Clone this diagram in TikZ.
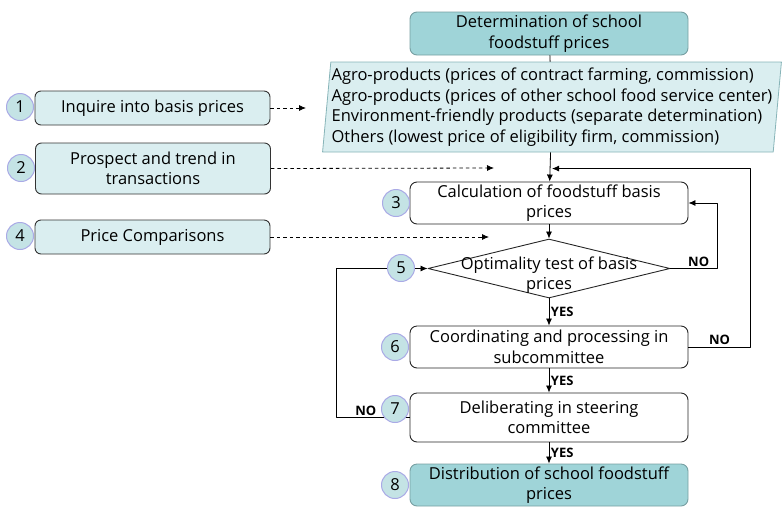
\documentclass[tikz,border=0pt]{standalone}
\usepackage{fontspec}
\setmainfont{Open Sans}
\usetikzlibrary{shapes.geometric,arrows.meta}
\definecolor{tealbox}{HTML}{9FD4D8}
\definecolor{palebox}{HTML}{DAEEF0}
\definecolor{numfill}{HTML}{C4E3E5}
\definecolor{numring}{HTML}{AAAAE6}
\begin{document}
\begin{tikzpicture}[x=1pt,y=-1pt,line join=round,
  every node/.style={font=\fontsize{16.5}{20.5}\selectfont},
  flowbox/.style={draw=black!85,rounded corners=7pt,line width=0.9pt,minimum width=278pt,align=center,inner sep=0pt},
  sidebox/.style={draw=black!80,fill=palebox,rounded corners=6pt,line width=0.9pt,minimum width=235pt,align=center,inner sep=0pt},
  numdot/.style={circle,draw=numring,fill=numfill,line width=1pt,minimum size=27pt,inner sep=0pt},
  answer/.style={font=\fontsize{13}{14}\selectfont\bfseries,inner sep=1.5pt},
  flow/.style={-{Latex[length=7pt,width=6pt]},line width=0.8pt},
  hint/.style={flow,dash pattern=on 3.5pt off 3pt}]
  \useasboundingbox (0,0) rectangle (782,507);
  % main column: source box, basis sources, calculation, test and committees
  \node[flowbox,fill=tealbox,draw=tealbox!75!black,minimum height=43pt] (top) at (549,33.5) {Determination of school\\foodstuff prices};
  \node[trapezium,trapezium left angle=84,trapezium right angle=96,trapezium stretches=true,
        draw=tealbox!85!black,fill=palebox,line width=0.8pt,minimum width=460pt,minimum height=90pt,
        align=left,inner sep=0pt] (src) at (552,107)
    {Agro-products (prices of contract farming, commission)\\
     Agro-products (prices of other school food service center)\\
     Environment-friendly products (separate determination)\\
     Others (lowest price of eligibility firm, commission)};
  \node[flowbox,minimum height=42pt] (calc) at (549,203) {Calculation of foodstuff basis\\prices};
  \node[diamond,draw=black!85,line width=0.9pt,minimum width=242pt,minimum height=59pt,inner sep=0pt] (test) at (549,268.5) {};
  \node[align=center] (testtxt) at (549,275) {Optimality test of basis\\prices};
  \node[flowbox,minimum height=42pt] (sub) at (549,347) {Coordinating and processing in\\subcommittee};
  \node[flowbox,minimum height=49pt] (steer) at (549,417.5) {Deliberating in steering\\committee};
  \node[flowbox,fill=tealbox,draw=tealbox!75!black,minimum height=42pt] (dist) at (549,485) {Distribution of school foodstuff\\prices};

  % inputs at left
  \node[sidebox,minimum height=34pt] (s1) at (152.5,108) {Inquire into basis prices};
  \node[sidebox,minimum height=51pt] (s2) at (153,168.5) {Prospect and trend in\\transactions};
  \node[sidebox,minimum height=34pt] (s4) at (152.5,237) {Price Comparisons};
  \coordinate (h1) at (306,108);
  \coordinate (h2) at (494,168);
  \coordinate (h4) at (489,237);
  \draw[hint] (s1.east) -- (h1);
  \draw[hint] (s2.east) -- (h2);
  \draw[hint] (s4.east) -- (h4);

  \draw[line width=0.8pt] (top) -- (src);
  \draw[flow] (src) -- (calc);
  \draw[flow] (calc) -- (test);
  \draw[flow] (test) -- node[answer,right] {YES} (sub);
  \draw[flow] (sub) -- node[answer,right] {YES} (steer);
  \draw[flow] (steer) -- node[answer,right] {YES} (dist);

  % loops back
  \draw[flow] (test.east) -| node[answer,above,pos=0.3] {NO} ([xshift=29pt]calc.east) -- (calc.east);
  \draw[flow] (sub.east) -- node[answer,above] {NO} ++(62,0) |- ([xshift=3pt,yshift=13pt]calc.north);
  \draw[flow] (steer.west) -- node[answer,above,pos=0.6] {NO} ++(-73,0) |- (test.west);

  % step numbers
  \node[numdot] (n1) at (20,107) {1};
  \node[numdot] (n2) at (21,168) {2};
  \node[numdot] (n4) at (20,236) {4};
  \node[numdot] (n3) at (396,203) {3};
  \node[numdot] (n5) at (401,268) {5};
  \node[numdot] (n6) at (395,347) {6};
  \node[numdot] (n7) at (395,409) {7};
  \node[numdot] (n8) at (395,485) {8};
\end{tikzpicture}
\end{document}
